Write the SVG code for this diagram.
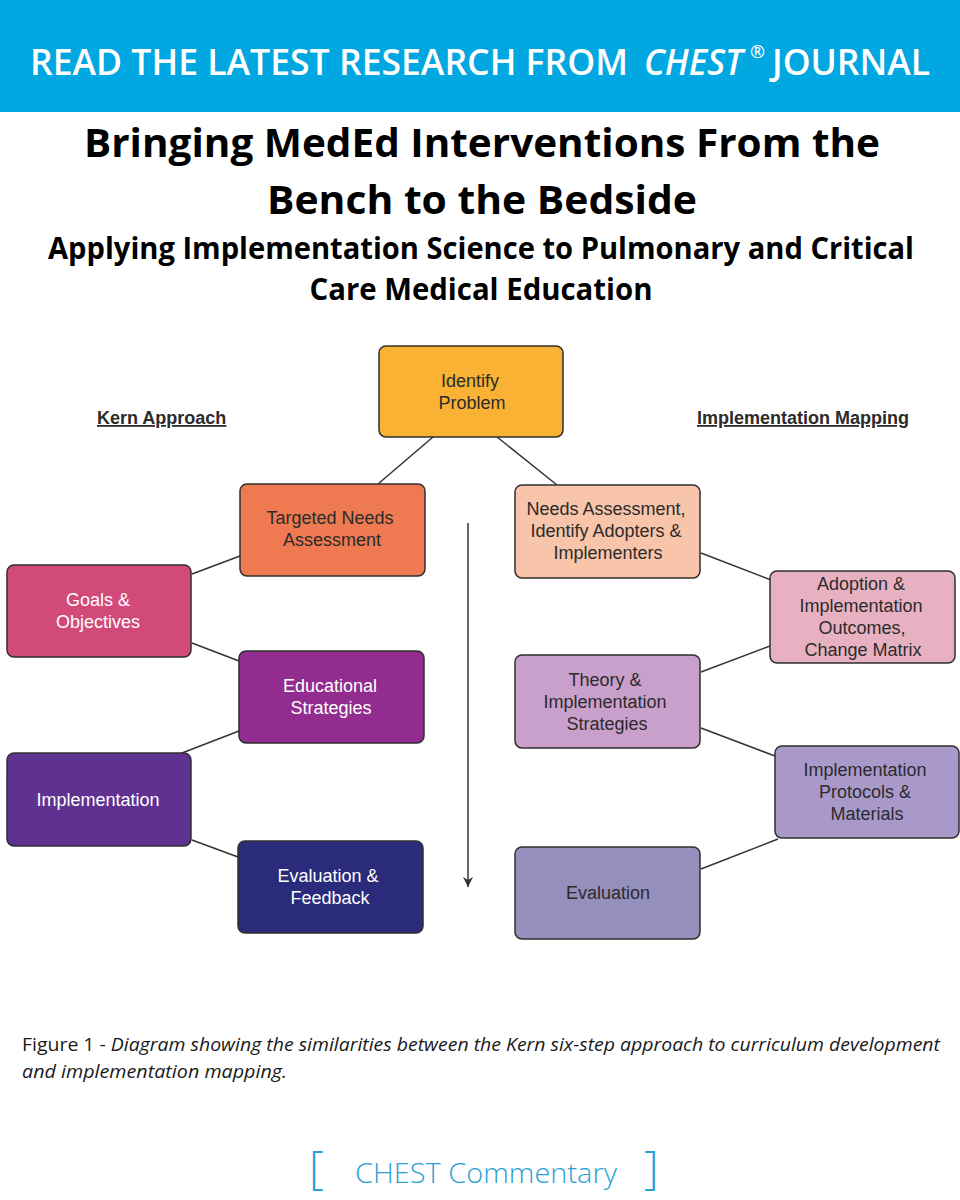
<svg xmlns="http://www.w3.org/2000/svg" width="960" height="1200" viewBox="0 0 960 1200">
<defs>
<style>
.box{stroke:#2f2f2f;stroke-width:1.5}
.lbl{font-family:"Liberation Sans",Arial,sans-serif;font-size:18px;text-anchor:middle}
.dk{fill:#2b2b2b}
.wt{fill:#ffffff}
.hd{font-family:"Liberation Sans",Arial,sans-serif;font-size:18px;font-weight:bold;fill:#2b2b2b;text-decoration:underline}
.conn line{stroke:#333;stroke-width:1.5}
.title{font-family:"Open Sans","Liberation Sans",sans-serif;font-weight:bold;fill:#000;text-anchor:middle}
.ban{font-family:"Open Sans","Liberation Sans",sans-serif;font-weight:600;fill:#ffffff}
.cc{font-family:"Open Sans","Liberation Sans",sans-serif;font-weight:300;fill:#2A9FD6}
</style>
<marker id="ah" markerWidth="10" markerHeight="10" refX="10" refY="5" orient="auto" markerUnits="userSpaceOnUse" viewBox="0 0 10 10">
<path d="M0,0 L10,5 L0,10 L3,5 Z" fill="#333"/>
</marker>
</defs>
<rect width="960" height="1200" fill="#ffffff"/>
<rect x="0" y="0" width="960" height="112" fill="#00A7E1"/>
<text class="ban" x="30" y="75" font-size="36" textLength="598" lengthAdjust="spacingAndGlyphs">READ THE LATEST RESEARCH FROM</text>
<text class="ban" x="644" y="75" font-size="36" font-style="italic" textLength="99" lengthAdjust="spacingAndGlyphs">CHEST</text>
<text class="ban" x="750" y="58" font-size="18">®</text>
<text class="ban" x="772" y="75" font-size="36" textLength="158" lengthAdjust="spacingAndGlyphs">JOURNAL</text>

<text class="title" x="482" y="157" font-size="40" textLength="796" lengthAdjust="spacingAndGlyphs">Bringing MedEd Interventions From the</text>
<text class="title" x="482" y="214" font-size="40" textLength="430" lengthAdjust="spacingAndGlyphs">Bench to the Bedside</text>
<text class="title" x="481" y="259" font-size="30" textLength="866" lengthAdjust="spacingAndGlyphs">Applying Implementation Science to Pulmonary and Critical</text>
<text class="title" x="481" y="300" font-size="30" textLength="343" lengthAdjust="spacingAndGlyphs">Care Medical Education</text>

<text class="hd" x="97" y="424">Kern Approach</text>
<text class="hd" x="697" y="424">Implementation Mapping</text>

<g class="conn" id="connectors">
<line x1="433" y1="437" x2="378" y2="484"/>
<line x1="497" y1="437" x2="557" y2="485"/>
<line x1="240" y1="556" x2="192" y2="574"/>
<line x1="192" y1="643" x2="239" y2="661"/>
<line x1="239" y1="731" x2="182" y2="753"/>
<line x1="192" y1="840" x2="238" y2="857"/>
<line x1="701" y1="553" x2="771" y2="580"/>
<line x1="770" y1="646" x2="701" y2="672"/>
<line x1="701" y1="728" x2="775" y2="756"/>
<line x1="778" y1="839" x2="701" y2="869"/>
<line x1="468" y1="523" x2="468" y2="887" marker-end="url(#ah)"/>
</g>

<g id="identify-problem">
<rect class="box" x="379" y="346" width="184" height="91" rx="7" fill="#F9B233"/>
<text class="lbl dk" x="470" y="387">Identify</text>
<text class="lbl dk" x="472" y="409">Problem</text>
</g>
<g id="targeted-needs">
<rect class="box" x="240" y="484" width="185" height="92" rx="7" fill="#EF7A52"/>
<text class="lbl dk" x="330" y="524">Targeted Needs</text>
<text class="lbl dk" x="332" y="546">Assessment</text>
</g>
<g id="goals">
<rect class="box" x="7" y="565" width="184" height="92" rx="7" fill="#D14A7A"/>
<text class="lbl wt" x="98" y="606">Goals &amp;</text>
<text class="lbl wt" x="98" y="628">Objectives</text>
</g>
<g id="educational">
<rect class="box" x="239" y="651" width="185" height="92" rx="7" fill="#922C8E"/>
<text class="lbl wt" x="330" y="692">Educational</text>
<text class="lbl wt" x="331" y="714">Strategies</text>
</g>
<g id="implementation">
<rect class="box" x="7" y="753" width="184" height="93" rx="7" fill="#5F3292"/>
<text class="lbl wt" x="98" y="806">Implementation</text>
</g>
<g id="evaluation-feedback">
<rect class="box" x="238" y="841" width="185" height="92" rx="7" fill="#2A2B7B"/>
<text class="lbl wt" x="328" y="882">Evaluation &amp;</text>
<text class="lbl wt" x="330" y="904">Feedback</text>
</g>
<g id="needs-assessment">
<rect class="box" x="515" y="485" width="185" height="93" rx="7" fill="#F8C4AA"/>
<text class="lbl dk" x="606" y="515">Needs Assessment,</text>
<text class="lbl dk" x="606" y="537">Identify Adopters &amp;</text>
<text class="lbl dk" x="608" y="559">Implementers</text>
</g>
<g id="adoption">
<rect class="box" x="770" y="571" width="185" height="92" rx="7" fill="#E8B1C1"/>
<text class="lbl dk" x="861" y="590">Adoption &amp;</text>
<text class="lbl dk" x="861" y="612">Implementation</text>
<text class="lbl dk" x="862" y="634">Outcomes,</text>
<text class="lbl dk" x="863" y="656">Change Matrix</text>
</g>
<g id="theory">
<rect class="box" x="515" y="655" width="185" height="93" rx="7" fill="#C99FCB"/>
<text class="lbl dk" x="605" y="686">Theory &amp;</text>
<text class="lbl dk" x="605" y="708">Implementation</text>
<text class="lbl dk" x="607" y="730">Strategies</text>
</g>
<g id="protocols">
<rect class="box" x="775" y="746" width="184" height="92" rx="7" fill="#A999CB"/>
<text class="lbl dk" x="865" y="776">Implementation</text>
<text class="lbl dk" x="865" y="798">Protocols &amp;</text>
<text class="lbl dk" x="867" y="820">Materials</text>
</g>
<g id="evaluation">
<rect class="box" x="515" y="847" width="185" height="92" rx="7" fill="#958FBE"/>
<text class="lbl dk" x="608" y="899">Evaluation</text>
</g>

<text x="22" y="1051" font-family="Open Sans,Liberation Sans,sans-serif" font-size="19" fill="#1a1a1a" textLength="918" lengthAdjust="spacingAndGlyphs">Figure 1 - <tspan font-style="italic">Diagram showing the similarities between the Kern six-step approach to curriculum development</tspan></text>
<text x="22" y="1078" font-family="Open Sans,Liberation Sans,sans-serif" font-size="19" font-style="italic" fill="#1a1a1a" textLength="265" lengthAdjust="spacingAndGlyphs">and implementation mapping.</text>

<g id="chest-commentary">
<text class="cc" x="309" y="1184" font-size="46">[</text>
<text class="cc" x="644" y="1184" font-size="46">]</text>
<text class="cc" x="355" y="1183" font-size="28" textLength="262" lengthAdjust="spacingAndGlyphs">CHEST Commentary</text>
</g>
</svg>
